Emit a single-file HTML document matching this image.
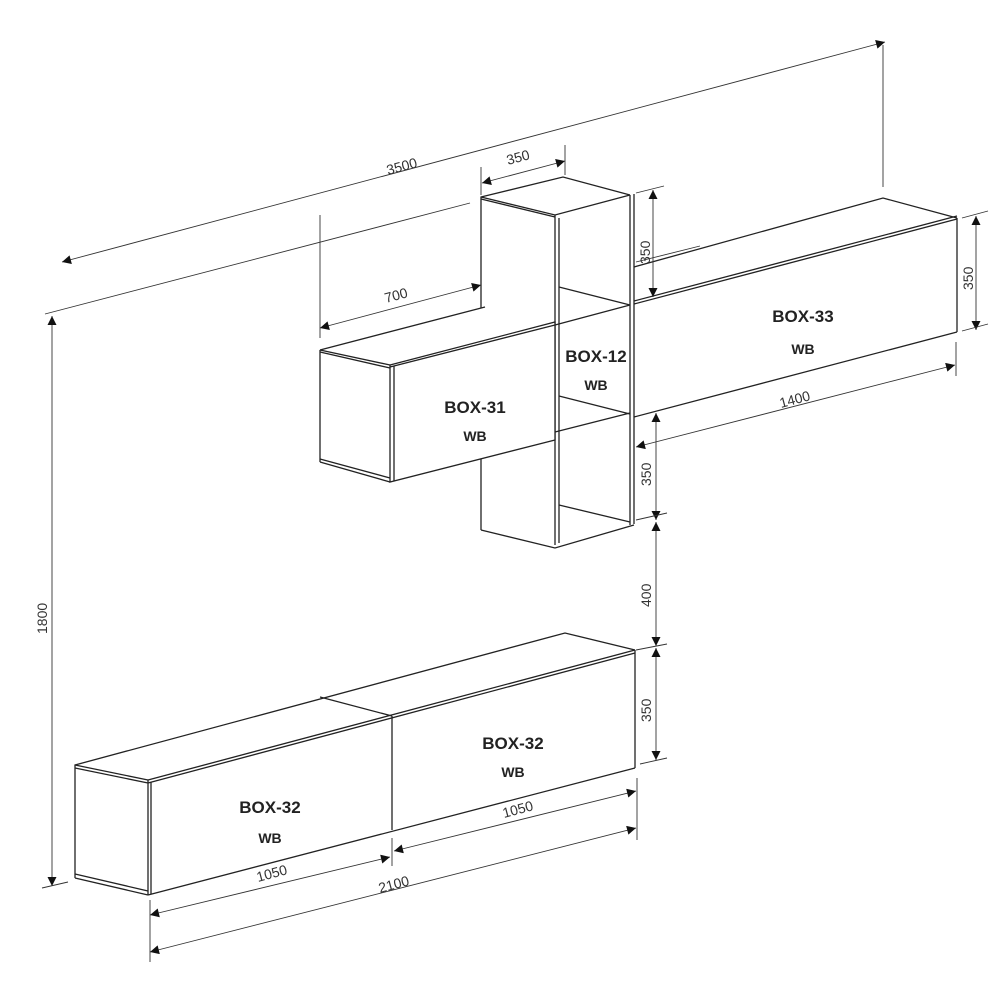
<!DOCTYPE html>
<html><head><meta charset="utf-8"><style>
html,body{margin:0;padding:0;background:#fff;}
svg{display:block;}
.l{stroke:#222;stroke-width:1.3;fill:none;}
.t{stroke:#333;stroke-width:0.9;fill:none;}
.d{font-family:"Liberation Sans",sans-serif;font-size:14px;fill:#333;}
.b{font-family:"Liberation Sans",sans-serif;font-weight:bold;fill:#222;text-anchor:middle;}
</style></head><body>
<svg width="1000" height="1000" viewBox="0 0 1000 1000" xmlns="http://www.w3.org/2000/svg">
<defs>
<marker id="a" viewBox="0 0 10 10" refX="10" refY="5" markerWidth="15" markerHeight="9" orient="auto-start-reverse" markerUnits="userSpaceOnUse">
<path d="M0,0 L10,5 L0,10 z" fill="#111"/></marker>
</defs>

<!-- ===== UPPER: tower BOX-12 ===== -->
<g class="l">
<polyline points="481,530 481,197 563,177 630,195"/>
<polyline points="481,197 555,215 630,195"/>
<line x1="481" y1="199" x2="555" y2="217"/>
<line x1="555" y1="215" x2="555" y2="545"/>
<line x1="559" y1="218" x2="559" y2="543"/>
<line x1="630" y1="195" x2="630" y2="525"/>
<line x1="634" y1="194" x2="634" y2="524"/>
<polyline points="481,530 555,548 634,525"/>
<line x1="555" y1="325" x2="630" y2="305"/>
<line x1="555" y1="432" x2="630" y2="413"/>
<line x1="559" y1="287" x2="630" y2="305"/>
<line x1="559" y1="396" x2="630" y2="414"/>
<line x1="559" y1="505" x2="630" y2="522"/>
</g>

<!-- BOX-31 -->
<g class="l">
<polygon points="320,350 485,307 555,322 390,365" fill="#fff" stroke="none"/>
<polygon points="390,365 555,322 555,440 390,482" fill="#fff"/>
<line x1="394" y1="366" x2="394" y2="481"/>
<polyline points="320,350 485,307"/>
<polyline points="320,350 390,365"/>
<line x1="320" y1="352" x2="390" y2="368"/>
<line x1="320" y1="350" x2="320" y2="462"/>
<polyline points="320,462 390,482"/>
<line x1="320" y1="459" x2="390" y2="478"/>
<line x1="390" y1="367" x2="555" y2="325"/>
</g>

<!-- BOX-33 -->
<g class="l">
<polyline points="634,267 883,198 957,218"/>
<line x1="634" y1="301" x2="957" y2="216"/>
<line x1="634" y1="304" x2="957" y2="219"/>
<line x1="957" y1="218" x2="957" y2="332"/>
<line x1="634" y1="417" x2="957" y2="332"/>
</g>

<!-- LOWER unit -->
<g class="l">
<polyline points="75,878 75,765 565,633 635,650"/>
<line x1="75" y1="765" x2="148" y2="780"/>
<line x1="75" y1="768" x2="148" y2="783"/>
<line x1="148" y1="780" x2="635" y2="650"/>
<line x1="148" y1="783" x2="635" y2="653"/>
<line x1="148" y1="780" x2="148" y2="895"/>
<line x1="151" y1="782" x2="151" y2="894"/>
<line x1="635" y1="650" x2="635" y2="768"/>
<line x1="148" y1="895" x2="635" y2="768"/>
<polyline points="75,878 148,895"/>
<line x1="75" y1="874" x2="148" y2="891"/>
<line x1="320" y1="697" x2="392" y2="716"/>
<line x1="392" y1="716" x2="392" y2="830"/>
</g>

<!-- Labels -->
<text class="b" x="475" y="413" font-size="17">BOX-31</text>
<text class="b" x="475" y="441" font-size="14">WB</text>
<text class="b" x="596" y="362" font-size="17">BOX-12</text>
<text class="b" x="596" y="390" font-size="14">WB</text>
<text class="b" x="803" y="322" font-size="17">BOX-33</text>
<text class="b" x="803" y="354" font-size="14">WB</text>
<text class="b" x="270" y="813" font-size="17">BOX-32</text>
<text class="b" x="270" y="843" font-size="14">WB</text>
<text class="b" x="513" y="749" font-size="17">BOX-32</text>
<text class="b" x="513" y="777" font-size="14">WB</text>

<!-- Dimension lines -->
<g class="t">
<line x1="62" y1="262" x2="885" y2="42" marker-start="url(#a)" marker-end="url(#a)"/>
<line x1="883" y1="45" x2="883" y2="187"/>
<line x1="45" y1="314" x2="470" y2="203"/>
<line x1="482" y1="183" x2="565" y2="161" marker-start="url(#a)" marker-end="url(#a)"/>
<line x1="481" y1="167" x2="481" y2="195"/>
<line x1="565" y1="145" x2="565" y2="175"/>
<line x1="320" y1="328" x2="481" y2="285" marker-start="url(#a)" marker-end="url(#a)"/>
<line x1="320" y1="215" x2="320" y2="338"/>
<line x1="52" y1="316" x2="52" y2="886" marker-start="url(#a)" marker-end="url(#a)"/>
<line x1="42" y1="888" x2="68" y2="882"/>
<line x1="653" y1="190" x2="653" y2="297" marker-start="url(#a)" marker-end="url(#a)"/>
<line x1="636" y1="193" x2="664" y2="186"/>
<line x1="636" y1="262" x2="700" y2="246"/>
<line x1="976" y1="216" x2="976" y2="330" marker-start="url(#a)" marker-end="url(#a)"/>
<line x1="962" y1="218" x2="988" y2="211"/>
<line x1="962" y1="331" x2="988" y2="324"/>
<line x1="636" y1="447" x2="955" y2="365" marker-start="url(#a)" marker-end="url(#a)"/>
<line x1="956" y1="342" x2="956" y2="376"/>
<line x1="656" y1="413" x2="656" y2="520" marker-start="url(#a)" marker-end="url(#a)"/>
<line x1="636" y1="520" x2="667" y2="513"/>
<line x1="656" y1="522" x2="656" y2="646" marker-start="url(#a)" marker-end="url(#a)"/>
<line x1="636" y1="650" x2="667" y2="644"/>
<line x1="656" y1="648" x2="656" y2="760" marker-start="url(#a)" marker-end="url(#a)"/>
<line x1="640" y1="764" x2="667" y2="758"/>
<line x1="150" y1="915" x2="390" y2="857" marker-start="url(#a)" marker-end="url(#a)"/>
<line x1="150" y1="900" x2="150" y2="962"/>
<line x1="392" y1="838" x2="392" y2="866"/>
<line x1="394" y1="851" x2="636" y2="791" marker-start="url(#a)" marker-end="url(#a)"/>
<line x1="637" y1="778" x2="637" y2="840"/>
<line x1="150" y1="952" x2="636" y2="828" marker-start="url(#a)" marker-end="url(#a)"/>
</g>

<!-- Dimension texts -->
<text class="d" transform="translate(388,175) rotate(-15)">3500</text>
<text class="d" transform="translate(508,165) rotate(-15)">350</text>
<text class="d" transform="translate(386,303) rotate(-15)">700</text>
<text class="d" transform="translate(47,634) rotate(-90)">1800</text>
<text class="d" transform="translate(650,264) rotate(-90)">350</text>
<text class="d" transform="translate(973,290) rotate(-90)">350</text>
<text class="d" transform="translate(781,408) rotate(-15)">1400</text>
<text class="d" transform="translate(651,486) rotate(-90)">350</text>
<text class="d" transform="translate(651,607) rotate(-90)">400</text>
<text class="d" transform="translate(651,722) rotate(-90)">350</text>
<text class="d" transform="translate(258,882) rotate(-15)">1050</text>
<text class="d" transform="translate(504,818) rotate(-15)">1050</text>
<text class="d" transform="translate(380,893) rotate(-15)">2100</text>
</svg>
</body></html>
